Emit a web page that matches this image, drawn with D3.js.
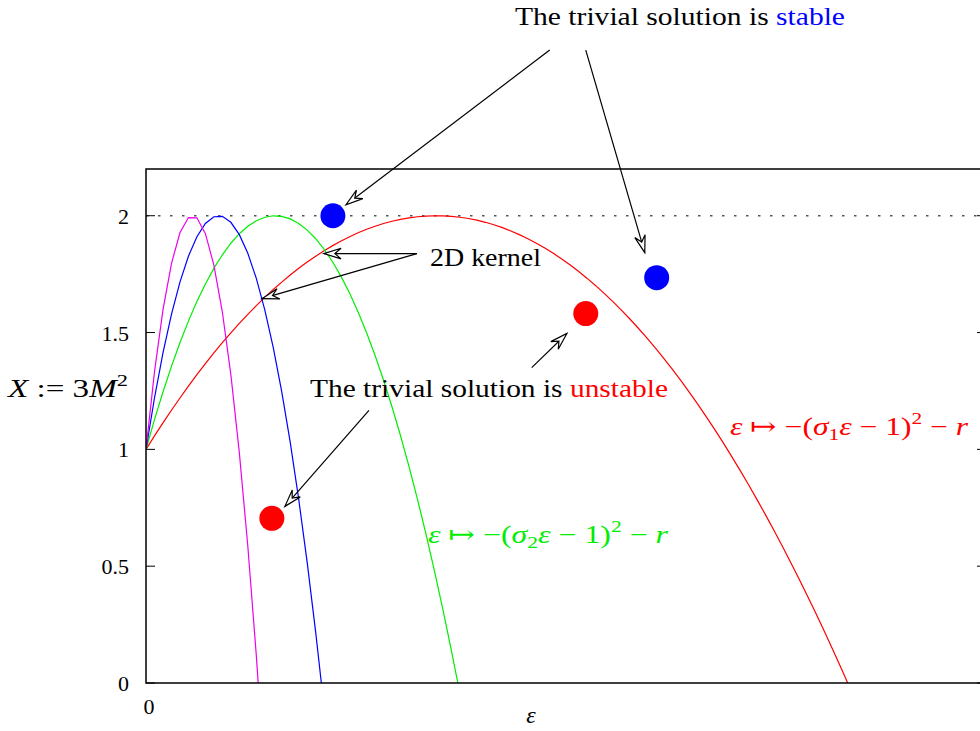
<!DOCTYPE html>
<html>
<head>
<meta charset="utf-8">
<script src="https://cdn.jsdelivr.net/npm/d3@7"></script>
<style>
  body { margin: 0; background: #fff; }
  svg text { font-family: "Liberation Serif", "DejaVu Serif", serif; }
</style>
</head>
<body>
<div id="chart"></div>
<script>
// curves: X(eps) = -(sigma*eps - 1)^2 - r, with r = -2
const sigmas = [1, 2.25, 4, 6.25];
const curveColors = ["#ff0000", "#00ee00", "#0000ff", "#ee00ee"];
const rParam = -2;
const nSamples = 100;
const xDomain = [0, 2.89];
const yDomain = [0, 2.2];
const yTicks = [0, 0.5, 1, 1.5, 2];
const xTicks = [0];

// marked points
const bluePoints = [[0.643, 2.0], [1.757, 1.735]];
const redPoints = [[1.513, 1.581], [0.433, 0.705]];

// annotation arrows [x1, y1, x2, y2] in data units
const arrows = [
  [1.389, 2.709, 0.688, 2.047],
  [1.513, 2.709, 1.716, 1.842],
  [0.932, 1.838, 0.612, 1.838],
  [0.932, 1.838, 0.399, 1.645],
  [0.767, 1.167, 0.478, 0.756],
  [1.327, 1.350, 1.448, 1.496]
];

const W = 980, H = 731;
const m = { left: 146, top: 169, right: 986, bottom: 683 };

const svg = d3.select("#chart").append("svg")
  .attr("width", W).attr("height", H);

const x = d3.scaleLinear().domain(xDomain).range([m.left, m.right]);
const y = d3.scaleLinear().domain(yDomain).range([m.bottom, m.top]);

svg.append("defs").append("clipPath").attr("id", "plotclip")
  .append("rect")
  .attr("x", m.left).attr("y", m.top)
  .attr("width", m.right - m.left).attr("height", m.bottom - m.top);

const plot = svg.append("g").attr("clip-path", "url(#plotclip)");

// dotted reference line at X = 2
plot.append("line")
  .attr("x1", x(xDomain[0])).attr("x2", x(xDomain[1]))
  .attr("y1", y(2)).attr("y2", y(2))
  .attr("stroke", "#555").attr("stroke-width", 1.6)
  .attr("stroke-dasharray", "2.5,9.5");

const line = d3.line().x(d => x(d[0])).y(d => y(d[1]));
sigmas.forEach((s, i) => {
  const pts = d3.range(nSamples).map(k => {
    const e = xDomain[0] + (xDomain[1] - xDomain[0]) * k / (nSamples - 1);
    return [e, -Math.pow(s * e - 1, 2) - rParam];
  });
  plot.append("path")
    .attr("d", line(pts))
    .attr("fill", "none")
    .attr("stroke", curveColors[i])
    .attr("stroke-width", 1.2);
});

// frame
svg.append("rect")
  .attr("x", m.left).attr("y", m.top)
  .attr("width", m.right - m.left).attr("height", m.bottom - m.top)
  .attr("fill", "none").attr("stroke", "#000").attr("stroke-width", 1.5);

// ticks (inward, mirrored)
const tl = 9;
yTicks.forEach(t => {
  svg.append("line").attr("x1", m.left).attr("x2", m.left + tl)
    .attr("y1", y(t)).attr("y2", y(t)).attr("stroke", "#000").attr("stroke-width", 1);
  svg.append("line").attr("x1", m.right).attr("x2", m.right - tl)
    .attr("y1", y(t)).attr("y2", y(t)).attr("stroke", "#000").attr("stroke-width", 1);
  svg.append("text")
    .attr("x", m.left - 17).attr("y", y(t) + 8)
    .attr("text-anchor", "end").attr("font-size", 22)
    .text(d3.format("~g")(t));
});
xTicks.forEach(t => {
  svg.append("text")
    .attr("x", x(t) + 3).attr("y", 714)
    .attr("text-anchor", "middle").attr("font-size", 22)
    .text(t);
});

// axis labels
svg.append("text").attr("x", 531).attr("y", 723)
  .attr("text-anchor", "middle").attr("font-size", 24)
  .attr("font-style", "italic").text("ε");

const ylab = svg.append("text").attr("x", 8).attr("y", 397).attr("font-size", 25)
  .attr("textLength", 120).attr("lengthAdjust", "spacingAndGlyphs");
ylab.append("tspan").attr("font-style", "italic").text("X");
ylab.append("tspan").text(" := 3");
ylab.append("tspan").attr("font-style", "italic").text("M");
ylab.append("tspan").attr("font-size", 17).attr("dy", -11).text("2");

// points
svg.selectAll("circle.blue").data(bluePoints).enter().append("circle")
  .attr("cx", d => x(d[0])).attr("cy", d => y(d[1])).attr("r", 12.5)
  .attr("fill", "#0000ff");
svg.selectAll("circle.red").data(redPoints).enter().append("circle")
  .attr("cx", d => x(d[0])).attr("cy", d => y(d[1])).attr("r", 12.5)
  .attr("fill", "#ff0000");

// arrows with open notched heads
function arrowHead(x1, y1, x2, y2) {
  const a = Math.atan2(y2 - y1, x2 - x1);
  const len = 18, back = 11, spread = 0.3;
  const p1 = [x2 - len * Math.cos(a - spread), y2 - len * Math.sin(a - spread)];
  const p2 = [x2 - back * Math.cos(a), y2 - back * Math.sin(a)];
  const p3 = [x2 - len * Math.cos(a + spread), y2 - len * Math.sin(a + spread)];
  return `M${x2},${y2}L${p1[0]},${p1[1]}L${p2[0]},${p2[1]}L${p3[0]},${p3[1]}Z`;
}
arrows.forEach(d => {
  const [x1, y1, x2, y2] = [x(d[0]), y(d[1]), x(d[2]), y(d[3])];
  svg.append("line").attr("x1", x1).attr("y1", y1).attr("x2", x2).attr("y2", y2)
    .attr("stroke", "#000").attr("stroke-width", 1.2);
  svg.append("path").attr("d", arrowHead(x1, y1, x2, y2))
    .attr("fill", "#fff").attr("stroke", "#000").attr("stroke-width", 1.2)
    .attr("stroke-linejoin", "miter");
});

// annotation texts
const t1 = svg.append("text").attr("x", 515).attr("y", 25).attr("font-size", 26)
  .attr("textLength", 330).attr("lengthAdjust", "spacingAndGlyphs");
t1.append("tspan").text("The trivial solution is ");
t1.append("tspan").attr("fill", "#0000ff").text("stable");

svg.append("text").attr("x", 430).attr("y", 266).attr("font-size", 25)
  .attr("textLength", 111).attr("lengthAdjust", "spacingAndGlyphs").text("2D kernel");

const t2 = svg.append("text").attr("x", 310).attr("y", 397).attr("font-size", 26)
  .attr("textLength", 358).attr("lengthAdjust", "spacingAndGlyphs");
t2.append("tspan").text("The trivial solution is ");
t2.append("tspan").attr("fill", "#ff0000").text("unstable");

function curveLabel(px, py, color, sub, width) {
  const t = svg.append("text").attr("x", px).attr("y", py)
    .attr("font-size", 25).attr("fill", color)
    .attr("textLength", width).attr("lengthAdjust", "spacingAndGlyphs");
  t.append("tspan").attr("font-style", "italic").text("ε");
  t.append("tspan").text(" ↦ −(");
  t.append("tspan").attr("font-style", "italic").text("σ");
  t.append("tspan").attr("font-size", 17).attr("dy", 5).text(sub);
  t.append("tspan").attr("font-style", "italic").attr("dy", -5).text("ε");
  t.append("tspan").text(" − 1)");
  t.append("tspan").attr("font-size", 17).attr("dy", -11).text("2");
  t.append("tspan").attr("dy", 11).text(" − ");
  t.append("tspan").attr("font-style", "italic").text("r");
}
curveLabel(730, 435, "#ff0000", "1", 238);
curveLabel(428, 543, "#00ee00", "2", 240);
</script>
</body>
</html>
